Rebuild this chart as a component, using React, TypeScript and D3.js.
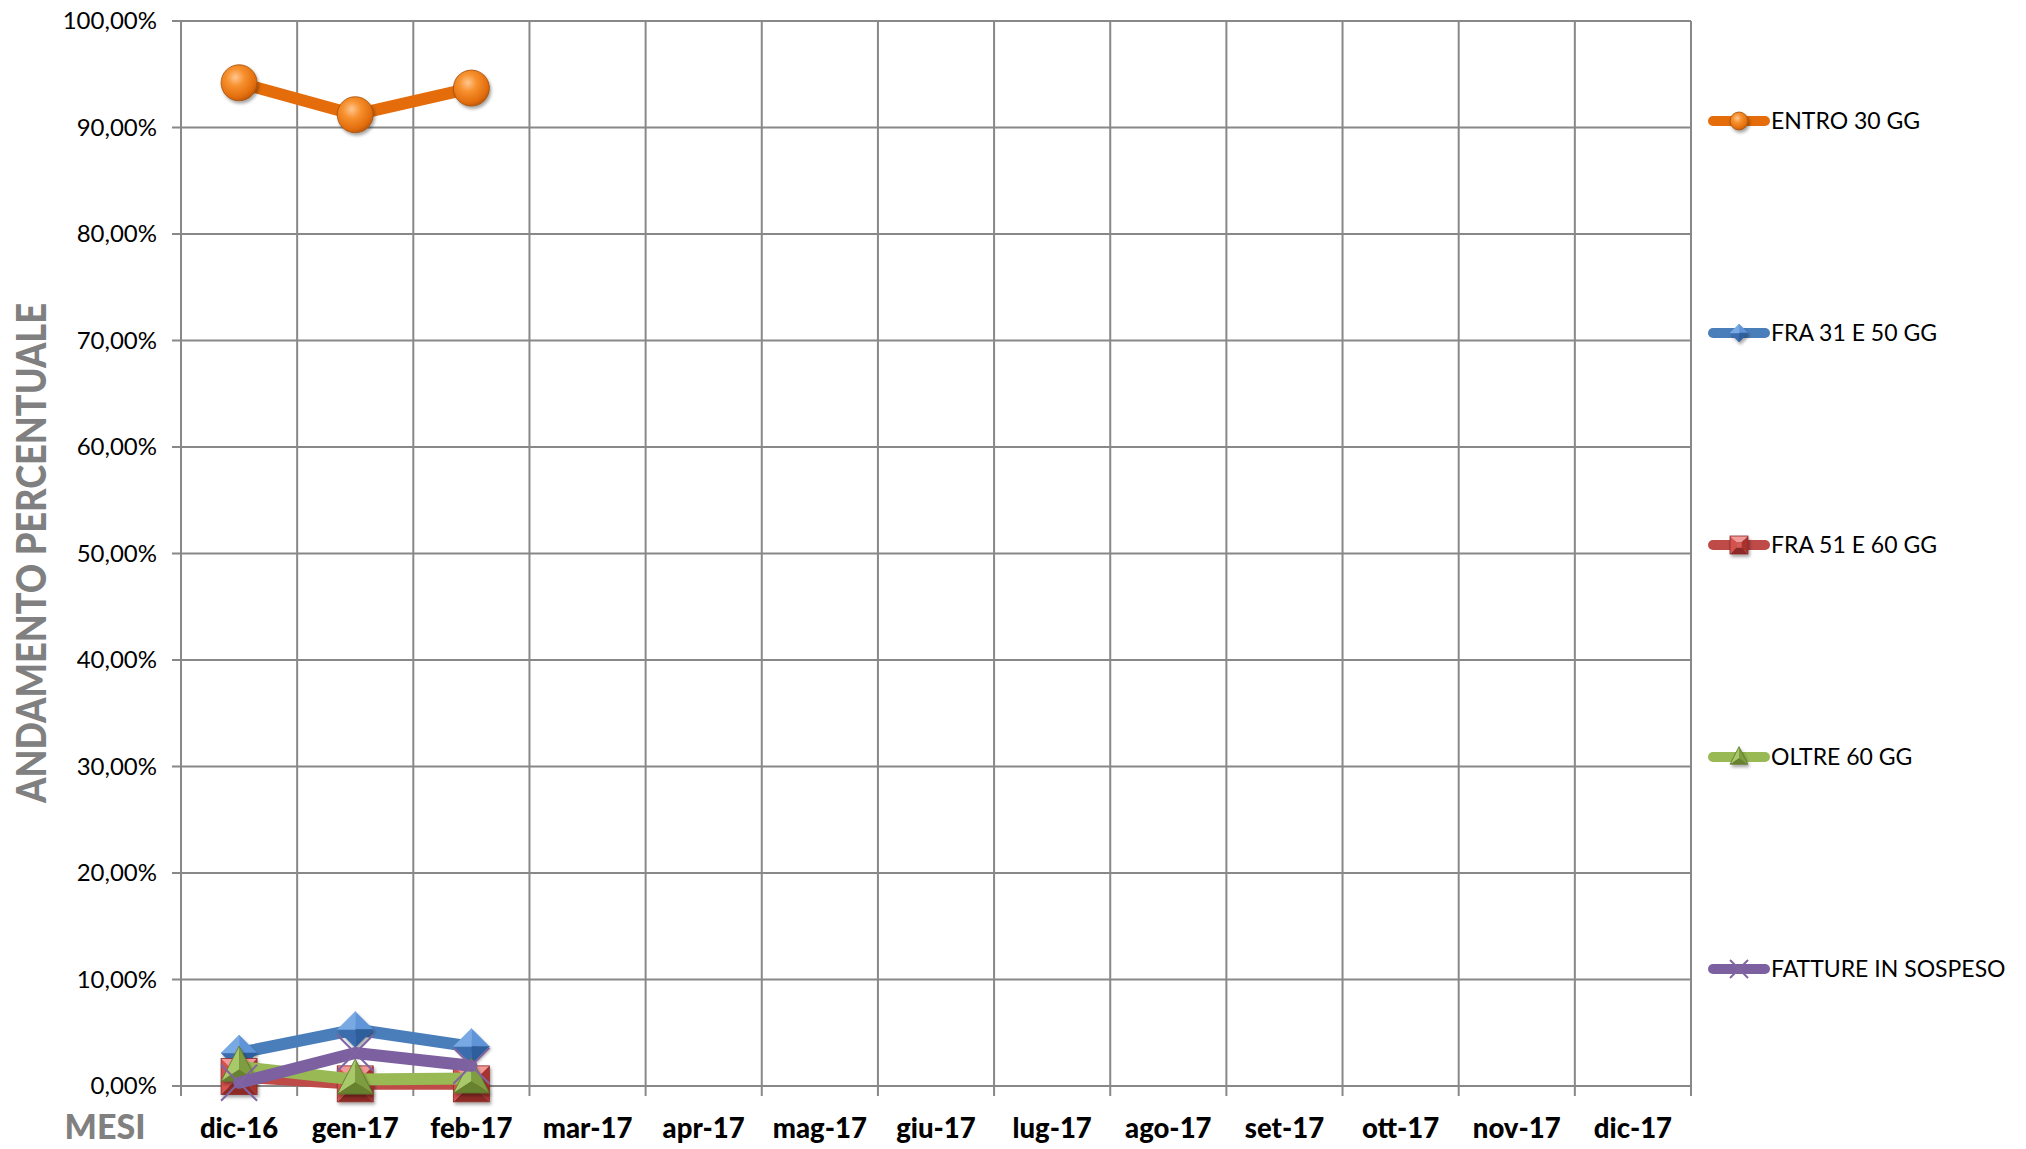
import React, { useEffect } from 'react';
import * as d3 from 'd3';

const MONTHS = ['dic-16', 'gen-17', 'feb-17', 'mar-17', 'apr-17', 'mag-17', 'giu-17', 'lug-17', 'ago-17', 'set-17', 'ott-17', 'nov-17', 'dic-17'];

const entro30 = [94.2, 91.2, 93.7];
const fra31e50 = [3.1, 5.3, 3.7];
const fra51e60 = [0.9, 0.2, 0.2];
const oltre60 = [1.8, 0.6, 0.7];
const sospeso = [0.3, 3.1, 1.9];

const SERIES_NAMES = ['ENTRO 30 GG', 'FRA 31 E 50 GG', 'FRA 51 E 60 GG', 'OLTRE 60 GG', 'FATTURE IN SOSPESO'];
const Y_TICKS = [0, 10, 20, 30, 40, 50, 60, 70, 80, 90, 100];

type MarkerType = 'circle' | 'diamond' | 'square' | 'triangle' | 'x';

const SERIES: { name: string; values: number[]; color: string; marker: MarkerType }[] = [
  { name: SERIES_NAMES[0], values: entro30, color: '#E46C0A', marker: 'circle' },
  { name: SERIES_NAMES[1], values: fra31e50, color: '#4A7EBB', marker: 'diamond' },
  { name: SERIES_NAMES[2], values: fra51e60, color: '#BE4B48', marker: 'square' },
  { name: SERIES_NAMES[3], values: oltre60, color: '#98B954', marker: 'triangle' },
  { name: SERIES_NAMES[4], values: sospeso, color: '#7D60A0', marker: 'x' },
];

const W = 2026;
const H = 1149;
const M = { left: 181, right: 1691, top: 21, bottom: 1086 };
const GRID = '#888888';
const FONT = 'Lato, "Open Sans", sans-serif';

const pct = (v: number) => v.toFixed(2).replace('.', ',') + '%';

const Marker: React.FC<{ type: MarkerType; cx: number; cy: number; r: number }> = ({ type, cx, cy, r }) => {
  const t = `translate(${cx},${cy})`;
  if (type === 'circle') {
    return (
      <g transform={t} filter="url(#shadow)">
        <circle r={r} fill="url(#gOrange)" stroke="#A24F08" strokeWidth={0.8} />
      </g>
    );
  }
  if (type === 'diamond') {
    const pts = [[0, -r], [r, 0], [0, r], [-r, 0]];
    const cols = ['#5E95D8', '#2F5F9C', '#3B6DAE', '#79A9E2'];
    return (
      <g transform={t} filter="url(#shadow)">
        {pts.map((p, i) => {
          const q = pts[(i + 1) % 4];
          return <polygon key={i} points={`0,0 ${p[0]},${p[1]} ${q[0]},${q[1]}`} fill={cols[i]} stroke={cols[i]} strokeWidth={0.5} />;
        })}
      </g>
    );
  }
  if (type === 'square') {
    const i = r * 0.3;
    return (
      <g transform={t} filter="url(#shadow)">
        <polygon points={`${-r},${-r} ${r},${-r} ${i},${-i} ${-i},${-i}`} fill="#F29A97" />
        <polygon points={`${r},${-r} ${r},${r} ${i},${i} ${i},${-i}`} fill="#A9322F" />
        <polygon points={`${r},${r} ${-r},${r} ${-i},${i} ${i},${i}`} fill="#8E2926" />
        <polygon points={`${-r},${r} ${-r},${-r} ${-i},${-i} ${-i},${i}`} fill="#D5514D" />
        <rect x={-i} y={-i} width={2 * i} height={2 * i} fill="#D65B57" />
        <rect x={-r} y={-r} width={2 * r} height={2 * r} fill="none" stroke="#8A2A27" strokeWidth={0.8} />
      </g>
    );
  }
  if (type === 'triangle') {
    const top: [number, number] = [0, -r * 1.15];
    const bl: [number, number] = [-r, r * 0.8];
    const br: [number, number] = [r, r * 0.8];
    const c = [0, r * 0.15];
    return (
      <g transform={t} filter="url(#shadow)">
        <polygon points={`${top} ${bl} ${c}`} fill="#A8C96A" />
        <polygon points={`${top} ${br} ${c}`} fill="#7E9C40" />
        <polygon points={`${bl} ${br} ${c}`} fill="#66822F" />
        <polygon points={`${top} ${bl} ${br}`} fill="none" stroke="#5B7428" strokeWidth={0.8} />
      </g>
    );
  }
  return (
    <g transform={t}>
      <line x1={-r} y1={-r} x2={r} y2={r} stroke="#8064A2" strokeWidth={2} />
      <line x1={-r} y1={r} x2={r} y2={-r} stroke="#8064A2" strokeWidth={2} />
    </g>
  );
};

export default function App() {
  useEffect(() => {
    document.body.style.margin = '0';
  }, []);

  const x = d3.scaleBand<string>().domain(MONTHS).range([M.left, M.right]).paddingInner(0).paddingOuter(0);
  const y = d3.scaleLinear().domain([0, 100]).range([M.bottom, M.top]);
  const cx = (i: number) => (x(MONTHS[i]) as number) + x.bandwidth() / 2;

  const line = d3.line<number>()
    .x((_, i) => cx(i))
    .y((d) => y(d));

  const boundaries = MONTHS.map((m) => x(m) as number).concat([M.right]);
  const legendY = d3.scaleLinear().domain([0, SERIES.length - 1]).range([121, 969]);

  return (
    <svg width={W} height={H} style={{ display: 'block', background: '#fff' }} fontFamily={FONT}>
      <defs>
        <radialGradient id="gOrange" cx="40%" cy="35%" r="70%">
          <stop offset="0%" stopColor="#FFC690" />
          <stop offset="35%" stopColor="#F7912F" />
          <stop offset="80%" stopColor="#E26C0C" />
          <stop offset="100%" stopColor="#B2550A" />
        </radialGradient>
        <filter id="shadow" x="-50%" y="-50%" width="200%" height="200%">
          <feDropShadow dx="1.5" dy="2.5" stdDeviation="1.8" floodColor="#000" floodOpacity="0.35" />
        </filter>
      </defs>

      {/* gridlines */}
      {Y_TICKS.map((t) => (
        <line key={'h' + t} x1={M.left - 9} x2={M.right} y1={y(t)} y2={y(t)} stroke={GRID} strokeWidth={2} />
      ))}
      {boundaries.map((b, i) => (
        <line key={'v' + i} x1={b} x2={b} y1={M.top} y2={M.bottom + 10} stroke={GRID} strokeWidth={2} />
      ))}

      {/* y tick labels */}
      {Y_TICKS.map((t) => (
        <text key={'yl' + t} x={157} y={y(t)} dy="0.35em" textAnchor="end" fontSize={24} fill="#000">
          {pct(t)}
        </text>
      ))}

      {/* x tick labels */}
      {MONTHS.map((m, i) => (
        <text key={m} x={cx(i)} y={1138} textAnchor="middle" fontSize={27.5} fontWeight="900" fill="#000">
          {m}
        </text>
      ))}

      {/* axis titles */}
      <text
        transform={`translate(46,553) rotate(-90)`}
        textAnchor="middle"
        fontSize={41}
        fontWeight="900"
        fill="#808080"
        textLength={500}
        lengthAdjust="spacingAndGlyphs"
      >
        ANDAMENTO PERCENTUALE
      </text>
      <text x={105} y={1139} textAnchor="middle" fontSize={34} fontWeight="900" fill="#808080">
        MESI
      </text>

      {/* series */}
      {SERIES.map((s) => (
        <g key={s.name}>
          <path d={line(s.values) || ''} fill="none" stroke={s.color} strokeWidth={12} strokeLinejoin="round" strokeLinecap="round" />
          {s.values.map((v, i) => (
            <Marker key={i} type={s.marker} cx={cx(i)} cy={y(v)} r={18} />
          ))}
        </g>
      ))}

      {/* legend */}
      {SERIES.map((s, i) => {
        const ly = legendY(i);
        return (
          <g key={'lg' + s.name}>
            <line x1={1713} x2={1765} y1={ly} y2={ly} stroke={s.color} strokeWidth={10} strokeLinecap="round" />
            <Marker type={s.marker} cx={1739} cy={ly} r={9} />
            <text x={1771} y={ly} dy="0.35em" fontSize={23} fill="#000">
              {s.name}
            </text>
          </g>
        );
      })}
    </svg>
  );
}
